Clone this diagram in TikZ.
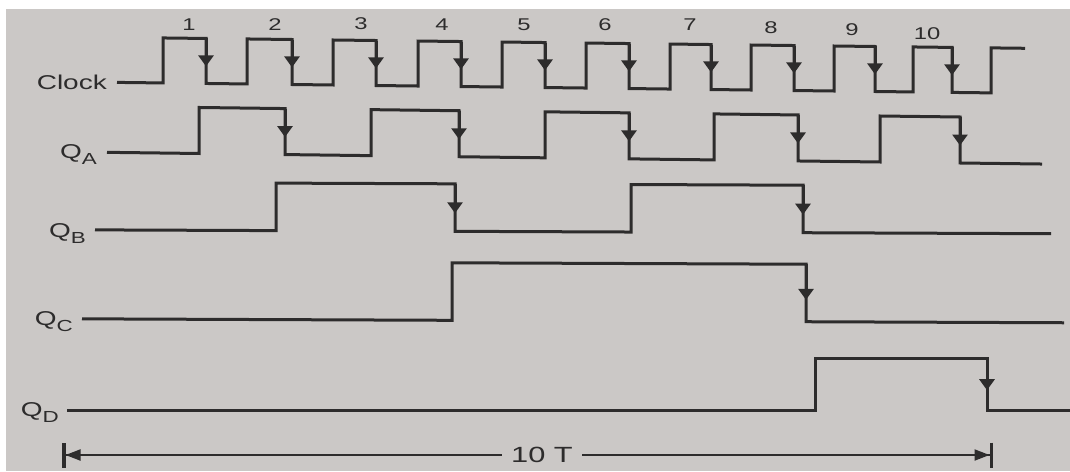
\documentclass[tikz,border=0pt]{standalone}
\usepackage{fontspec}
\setmainfont{Liberation Sans}
\newfontfamily\wavefont[FakeStretch=1.4]{Liberation Sans}
\usetikzlibrary{arrows.meta}
\definecolor{paper}{RGB}{203,200,198}
\definecolor{ink}{RGB}{45,44,44}
\newcommand{\qsig}[2]{#1\raisebox{-6pt}{\fontsize{16}{16}\selectfont #2}}

\begin{document}
\begin{tikzpicture}[x=1pt,y=-1pt,
    wave/.style={draw=ink,line width=3pt,line join=miter},
    tick/.style={draw=ink,line width=3pt,-{Triangle[length=11pt,width=15pt]}},
    lbl/.style={text=ink,inner sep=0pt,anchor=base east,font=\wavefont\fontsize{20}{22}\selectfont},
    num/.style={text=ink,inner sep=0pt,font=\wavefont\fontsize{17}{18}\selectfont},
    dim/.style={draw=ink,line width=2pt,-{Triangle[length=15pt,width=11pt]Bar[width=25pt,line width=3.5pt]}}
]
\useasboundingbox (0,0) rectangle (1070,471);
\fill[white] (0,0) rectangle (1070,471);
\fill[paper] (6,9) rectangle (1070,471);

% signal names
\node[lbl] (clk) at (107,89) {Clock};
\node[lbl] (qa) at (97,158) {\qsig{Q}{A}};
\node[lbl] (qb) at (86,237) {\qsig{Q}{B}};
\node[lbl] (qc) at (73,325) {\qsig{Q}{C}};
\node[lbl] (qd) at (59,416) {\qsig{Q}{D}};

% pulse numbers
\foreach \n/\x/\y in {1/189/25,2/275/25,3/361/24,4/442/25,5/524/25,6/605/25,7/690/25,8/771/28,9/852/30,10/927/34}
  \node[num] (n\n) at (\x,\y) {\n};

% clock
\begin{scope}[yslant=-0.012]
\def\hi{36}\def\lo{81}
\draw[wave] (117,\lo) \foreach \r/\f in {163/206,247/292,333/376,418/461,502/545,586/629,670/711,751/794,834/875,913/952}{ -- (\r,\lo) -- (\r,\hi) -- (\f,\hi) -- (\f,\lo)} -- (991,\lo) -- (991,\hi) -- (1025,\hi);
\foreach \f in {206,292,376,461,545,629,711,794,875,952}
  \draw[tick] (\f,\hi) -- (\f,{\hi+0.62*(\lo-\hi)});
\end{scope}

% QA
\begin{scope}[yslant=-0.0125]
\def\hi{105}\def\lo{151}
\draw[wave] (107,\lo) \foreach \r/\f in {199/285,371/459,545/629,714/798,880/960}{ -- (\r,\lo) -- (\r,\hi) -- (\f,\hi) -- (\f,\lo)} -- (1042,\lo);
\foreach \f in {285,459,629,798,960}
  \draw[tick] (\f,\hi) -- (\f,{\hi+0.62*(\lo-\hi)});
\end{scope}

% QB
\begin{scope}[yslant=-0.004]
\def\hi{182}\def\lo{229.5}
\draw[wave] (95,\lo) \foreach \r/\f in {276/455,631/803}{ -- (\r,\lo) -- (\r,\hi) -- (\f,\hi) -- (\f,\lo)} -- (1051,\lo);
\foreach \f in {455,803}
  \draw[tick] (\f,\hi) -- (\f,{\hi+0.62*(\lo-\hi)});
\end{scope}

% QC
\begin{scope}[yslant=-0.004]
\def\hi{261}\def\lo{318.5}
\draw[wave] (82,\lo) -- (452,\lo) -- (452,\hi) -- (806,\hi) -- (806,\lo) -- (1064,\lo);
\draw[tick] (806,\hi) -- (806,{\hi+0.62*(\lo-\hi)});
\end{scope}

% QD
\def\hi{358}\def\lo{410}
\draw[wave] (67,\lo) -- (815,\lo) -- (815,\hi) -- (987,\hi) -- (987,\lo) -- (1070,\lo);
\draw[tick] (987,\hi) -- (987,{\hi+0.62*(\lo-\hi)});

% span of ten periods
\coordinate (lend) at (62,455);
\coordinate (rend) at (993,455);
\node[text=ink,inner xsep=9pt,inner ysep=0pt,font=\wavefont\fontsize{22}{24}\selectfont] (span) at (542,455) {10 T};
\draw[dim] (span.west) -- (lend);
\draw[dim] (span.east) -- (rend);
\end{tikzpicture}
\end{document}
